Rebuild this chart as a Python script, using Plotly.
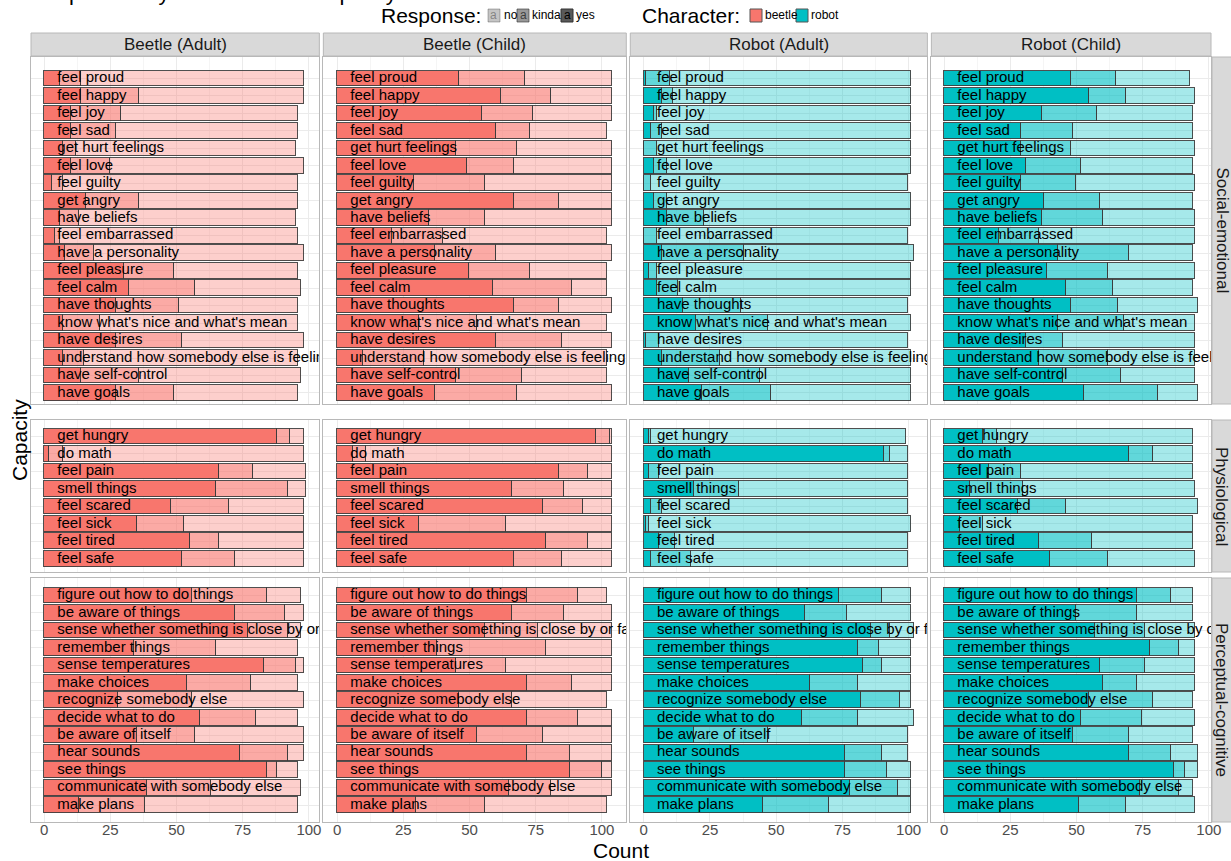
import plotly.graph_objects as go

# ---------------- data ----------------
SOCIAL = ["feel proud", "feel happy", "feel joy", "feel sad", "get hurt feelings", "feel love",
          "feel guilty", "get angry", "have beliefs", "feel embarrassed", "have a personality",
          "feel pleasure", "feel calm", "have thoughts", "know what's nice and what's mean",
          "have desires", "understand how somebody else is feeling", "have self-control", "have goals"]
PHYSIO = ["get hungry", "do math", "feel pain", "smell things", "feel scared", "feel sick",
          "feel tired", "feel safe"]
PERCEP = ["figure out how to do things", "be aware of things",
          "sense whether something is close by or far away", "remember things",
          "sense temperatures", "make choices", "recognize somebody else", "decide what to do",
          "be aware of itself", "hear sounds", "see things", "communicate with somebody else",
          "make plans"]

PANELS = ["Beetle (Adult)", "Beetle (Child)", "Robot (Adult)", "Robot (Child)"]
PANEL_CHARACTER = ["beetle", "beetle", "robot", "robot"]
ROW_LABELS = ["Social-emotional", "Physiological", "Perceptual-cognitive"]
RESPONSES = ["yes", "kinda", "no"]

# Beetle (Adult)
BA_SOC_YES = [6, 14, 10, 10, 7, 10, 3, 16, 6, 4, 8, 30, 32, 27, 7, 27, 7, 14, 27]
BA_SOC_KINDA = [8, 22, 19, 17, 5, 15, 4, 20, 7, 2, 11, 19, 25, 24, 14, 25, 8, 22, 22]
BA_SOC_NO = [84, 62, 67, 69, 83, 73, 89, 60, 82, 90, 79, 47, 40, 45, 75, 46, 81, 61, 47]
BA_PHY_YES = [88, 2, 66, 65, 48, 35, 55, 52]
BA_PHY_KINDA = [5, 5, 13, 27, 22, 18, 11, 20]
BA_PHY_NO = [5, 91, 20, 7, 28, 45, 32, 26]
BA_PER_YES = [56, 72, 77, 34, 83, 54, 28, 59, 35, 74, 84, 39, 13]
BA_PER_KINDA = [28, 19, 15, 31, 12, 24, 28, 21, 22, 18, 4, 24, 25]
BA_PER_NO = [13, 7, 5, 31, 3, 18, 42, 16, 41, 6, 8, 34, 58]

# Beetle (Child)
BC_SOC_YES = [46, 62, 55, 60, 45, 49, 29, 67, 35, 21, 37, 50, 59, 67, 31, 60, 10, 45, 37]
BC_SOC_KINDA = [25, 19, 19, 13, 23, 18, 27, 17, 21, 19, 23, 23, 30, 17, 22, 25, 23, 25, 31]
BC_SOC_NO = [33, 23, 30, 29, 36, 37, 48, 20, 48, 62, 44, 29, 13, 20, 49, 19, 69, 32, 36]
BC_PHY_YES = [98, 6, 84, 66, 78, 31, 79, 67]
BC_PHY_KINDA = [5, 5, 11, 20, 15, 33, 16, 18]
BC_PHY_NO = [1, 93, 9, 18, 11, 40, 9, 19]
BC_PER_YES = [72, 66, 56, 38, 45, 72, 46, 72, 53, 72, 88, 65, 30]
BC_PER_KINDA = [19, 20, 20, 41, 19, 17, 20, 19, 25, 16, 12, 16, 26]
BC_PER_NO = [11, 18, 28, 25, 40, 15, 36, 13, 26, 16, 4, 23, 46]

# Robot (Adult)
RA_SOC_YES = [1, 7, 4, 3, 0, 4, 0, 4, 9, 0, 7, 2, 5, 15, 20, 1, 7, 17, 22]
RA_SOC_KINDA = [9, 4, 1, 4, 5, 5, 3, 5, 14, 5, 31, 3, 8, 22, 27, 5, 22, 27, 26]
RA_SOC_NO = [91, 90, 96, 94, 96, 92, 97, 92, 78, 95, 64, 96, 88, 63, 54, 94, 72, 57, 53]
RA_PHY_YES = [2, 91, 2, 19, 3, 1, 6, 3]
RA_PHY_KINDA = [1, 2, 4, 17, 4, 1, 6, 15]
RA_PHY_NO = [96, 7, 94, 64, 93, 99, 88, 82]
RA_PER_YES = [74, 61, 86, 81, 83, 63, 82, 60, 19, 76, 76, 78, 45]
RA_PER_KINDA = [16, 16, 7, 8, 7, 18, 15, 21, 28, 14, 16, 18, 25]
RA_PER_NO = [11, 24, 9, 12, 11, 20, 4, 21, 53, 10, 9, 5, 31]

# Robot (Child)
RC_SOC_YES = [48, 55, 37, 29, 29, 31, 29, 38, 37, 21, 43, 39, 46, 48, 43, 31, 36, 45, 53]
RC_SOC_KINDA = [17, 14, 21, 20, 19, 21, 21, 21, 23, 15, 27, 23, 18, 18, 25, 14, 26, 22, 28]
RC_SOC_NO = [28, 26, 36, 45, 47, 42, 45, 35, 35, 59, 24, 33, 30, 30, 27, 50, 33, 28, 15]
RC_PHY_YES = [15, 70, 17, 10, 28, 6, 36, 40]
RC_PHY_KINDA = [5, 9, 12, 20, 18, 9, 20, 22]
RC_PHY_NO = [74, 15, 65, 65, 50, 79, 38, 33]
RC_PER_YES = [73, 50, 57, 78, 59, 60, 55, 52, 49, 70, 87, 74, 51]
RC_PER_KINDA = [13, 23, 19, 11, 17, 13, 24, 23, 21, 16, 4, 15, 18]
RC_PER_NO = [8, 21, 19, 6, 19, 22, 15, 20, 24, 10, 5, 5, 26]

LABEL_X = 5

ROW_ITEMS = [SOCIAL, PHYSIO, PERCEP]
PANEL_DATA = {
    (0, 0): (BA_SOC_YES, BA_SOC_KINDA, BA_SOC_NO),
    (1, 0): (BA_PHY_YES, BA_PHY_KINDA, BA_PHY_NO),
    (2, 0): (BA_PER_YES, BA_PER_KINDA, BA_PER_NO),
    (0, 1): (BC_SOC_YES, BC_SOC_KINDA, BC_SOC_NO),
    (1, 1): (BC_PHY_YES, BC_PHY_KINDA, BC_PHY_NO),
    (2, 1): (BC_PER_YES, BC_PER_KINDA, BC_PER_NO),
    (0, 2): (RA_SOC_YES, RA_SOC_KINDA, RA_SOC_NO),
    (1, 2): (RA_PHY_YES, RA_PHY_KINDA, RA_PHY_NO),
    (2, 2): (RA_PER_YES, RA_PER_KINDA, RA_PER_NO),
    (0, 3): (RC_SOC_YES, RC_SOC_KINDA, RC_SOC_NO),
    (1, 3): (RC_PHY_YES, RC_PHY_KINDA, RC_PHY_NO),
    (2, 3): (RC_PER_YES, RC_PER_KINDA, RC_PER_NO),
}

# ---------------- styling ----------------
W, H = 1231, 861
FONT = "Liberation Sans, Arial, sans-serif"
BASE_RGB = {"beetle": (248, 118, 109), "robot": (0, 191, 196)}
ALPHA = {"yes": 1.0, "kinda": 0.62, "no": 0.35}
OUTLINE = "rgba(60,60,60,0.9)"
GRID = "#EBEBEB"
GRID_MINOR = "#F5F5F5"
BORDER = "#B8B8B8"
STRIP_FILL = "#D9D9D9"


def px(x):
    return x / W


def py(y):
    return 1 - y / H


def rgba(rgb, a):
    return "rgba(%d,%d,%d,%.3f)" % (rgb[0], rgb[1], rgb[2], a)


# column geometry (free x space, like facet_grid space="free")
col_max = []
for c in range(4):
    m = 0
    for r in range(3):
        ys, ks, ns = PANEL_DATA[(r, c)]
        m = max(m, max(a + b + d for a, b, d in zip(ys, ks, ns)))
    col_max.append(m)
x_ranges = [(-0.05 * m, 1.05 * m) for m in col_max]
spans = [b - a for a, b in x_ranges]
LEFT, RIGHT, GAP = 31, 1211, 4
scale = (RIGHT - LEFT - 3 * GAP) / sum(spans)
col_px = []
x0 = LEFT
for s in spans:
    col_px.append((x0, x0 + s * scale))
    x0 += s * scale + GAP

# row geometry
ROW_PX = [(57, 404), (420, 572), (578, 822)]
ROW_FIRST = [78.5, 436.5, 595.5]
SPACING = 17.47

fig = go.Figure()
layout = {}
shapes = []
annotations = []

for r in range(3):
    items = ROW_ITEMS[r]
    top, bot = ROW_PX[r]
    y_top = (top - ROW_FIRST[r]) / SPACING
    y_bot = (bot - ROW_FIRST[r]) / SPACING
    for c in range(4):
        k = r * 4 + c + 1
        xname = "x" if k == 1 else "x%d" % k
        yname = "y" if k == 1 else "y%d" % k
        rgb = BASE_RGB[PANEL_CHARACTER[c]]
        vals = PANEL_DATA[(r, c)]
        for resp, v in zip(RESPONSES, vals):
            fig.add_trace(go.Bar(
                x=v, y=items, orientation="h", xaxis=xname, yaxis=yname,
                width=0.9, showlegend=False, name=resp,
                marker=dict(color=rgba(rgb, ALPHA[resp]), line=dict(color=OUTLINE, width=1)),
            ))
        fig.add_trace(go.Scatter(
            x=[LABEL_X] * len(items), y=items, mode="text", text=items,
            textposition="middle right", xaxis=xname, yaxis=yname,
            textfont=dict(size=15, color="black", family=FONT),
            showlegend=False, hoverinfo="skip", cliponaxis=True,
        ))
        cx0, cx1 = col_px[c]
        layout["xaxis" if k == 1 else "xaxis%d" % k] = dict(
            domain=[px(cx0), px(cx1)], anchor=yname, range=list(x_ranges[c]),
            tick0=0, dtick=25, showgrid=True, gridcolor=GRID, gridwidth=1,
            minor=dict(tick0=0, dtick=12.5, showgrid=True, gridcolor=GRID_MINOR, gridwidth=1),
            zeroline=False, showline=True, mirror=True, linecolor=BORDER, linewidth=1,
            showticklabels=(r == 2), ticks="", ticklabelstandoff=-6, automargin=False,
            tickfont=dict(size=15, color="#4D4D4D", family=FONT),
        )
        layout["yaxis" if k == 1 else "yaxis%d" % k] = dict(
            domain=[py(bot), py(top)], anchor=xname, type="category",
            categoryorder="array", categoryarray=items,
            range=[y_bot, y_top], showgrid=True, gridcolor=GRID, gridwidth=1,
            zeroline=False, showline=True, mirror=True, linecolor=BORDER, linewidth=1,
            showticklabels=False, ticks="", automargin=False,
        )

# top strips
for c in range(4):
    cx0, cx1 = col_px[c]
    shapes.append(dict(type="rect", xref="paper", yref="paper", x0=px(cx0), x1=px(cx1),
                       y0=py(56), y1=py(33), fillcolor=STRIP_FILL, line=dict(color=BORDER, width=1),
                       layer="below"))
    annotations.append(dict(text=PANELS[c], x=px((cx0 + cx1) / 2), y=py(44.5), xref="paper",
                            yref="paper", showarrow=False, xanchor="center", yanchor="middle",
                            font=dict(size=17, color="#1A1A1A", family=FONT)))
# right strips
for r in range(3):
    top, bot = ROW_PX[r]
    shapes.append(dict(type="rect", xref="paper", yref="paper", x0=px(1212), x1=px(1236),
                       y0=py(bot), y1=py(top), fillcolor=STRIP_FILL, line=dict(color=BORDER, width=1),
                       layer="below"))
    annotations.append(dict(text=ROW_LABELS[r], x=px(1222), y=py((top + bot) / 2), xref="paper",
                            yref="paper", showarrow=False, textangle=90, xanchor="center",
                            yanchor="middle", font=dict(size=17, color="#1A1A1A", family=FONT)))

# axis titles
annotations.append(dict(text="Count", x=px(621), y=py(850), xref="paper", yref="paper",
                        showarrow=False, xanchor="center", yanchor="middle",
                        font=dict(size=21, color="black", family=FONT)))
annotations.append(dict(text="Capacity", x=px(19), y=py(440), xref="paper", yref="paper",
                        showarrow=False, textangle=-90, xanchor="center", yanchor="middle",
                        font=dict(size=21, color="black", family=FONT)))

# partially visible title (cut off at the top of the image)
annotations.append(dict(text="Responses by character and capacity", x=px(28), y=py(7),
                        xref="paper", yref="paper", showarrow=False, xanchor="left",
                        yanchor="bottom", font=dict(size=22, color="black", family=FONT)))

# legend: Response
LEG_Y = 15.5
annotations.append(dict(text="Response:", x=px(379), y=py(LEG_Y), xref="paper", yref="paper",
                        showarrow=False, xanchor="left", yanchor="middle",
                        font=dict(size=21, color="black", family=FONT)))
resp_keys = [("no", 488, 502), ("kinda", 517, 530), ("yes", 561, 574)]
for resp, bx, tx in resp_keys:
    a = ALPHA[resp]
    shapes.append(dict(type="rect", xref="paper", yref="paper", x0=px(bx), x1=px(bx + 12),
                       y0=py(LEG_Y + 6.5), y1=py(LEG_Y - 6.5),
                       fillcolor=rgba((89, 89, 89), a), line=dict(color=rgba((51, 51, 51), a), width=1)))
    annotations.append(dict(text="a", x=px(bx + 6), y=py(LEG_Y), xref="paper", yref="paper",
                            showarrow=False, xanchor="center", yanchor="middle",
                            font=dict(size=12, color=rgba((0, 0, 0), a), family=FONT)))
    annotations.append(dict(text=resp, x=px(tx), y=py(LEG_Y), xref="paper", yref="paper",
                            showarrow=False, xanchor="left", yanchor="middle",
                            font=dict(size=12, color="black", family=FONT)))

# legend: Character
annotations.append(dict(text="Character:", x=px(640), y=py(LEG_Y), xref="paper", yref="paper",
                        showarrow=False, xanchor="left", yanchor="middle",
                        font=dict(size=21, color="black", family=FONT)))
char_keys = [("beetle", 750, 763), ("robot", 796, 809)]
for ch, bx, tx in char_keys:
    shapes.append(dict(type="rect", xref="paper", yref="paper", x0=px(bx), x1=px(bx + 12),
                       y0=py(LEG_Y + 6.5), y1=py(LEG_Y - 6.5),
                       fillcolor=rgba(BASE_RGB[ch], 1), line=dict(color="#555555", width=1)))
    annotations.append(dict(text=ch, x=px(tx), y=py(LEG_Y), xref="paper", yref="paper",
                            showarrow=False, xanchor="left", yanchor="middle",
                            font=dict(size=12, color="black", family=FONT)))

fig.update_layout(
    width=W, height=H, margin=dict(l=0, r=0, t=0, b=0, autoexpand=False), autosize=False,
    paper_bgcolor="white", plot_bgcolor="white", barmode="stack", bargap=0,
    showlegend=False, font=dict(family=FONT), shapes=shapes, annotations=annotations,
    **layout,
)

fig.write_html(
    "out.html",
    config={"displayModeBar": False},
    post_script="document.body.style.margin='0px';document.body.style.overflow='hidden';",
)
